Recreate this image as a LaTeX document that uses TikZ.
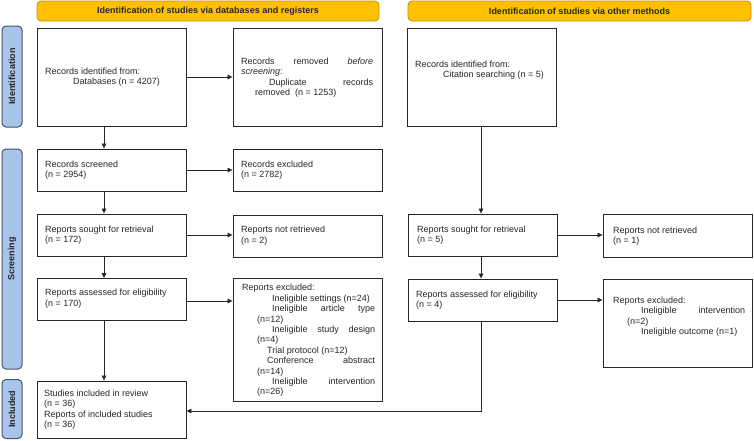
\documentclass[tikz,border=0pt]{standalone}
\usepackage{fontspec}
\setmainfont{Liberation Sans}
\usetikzlibrary{arrows.meta,calc}
\definecolor{hdrfill}{HTML}{FFC000}
\definecolor{hdrline}{HTML}{C59200}
\definecolor{sidefill}{HTML}{A9C4EB}
\definecolor{sideline}{HTML}{44546A}
\definecolor{ink}{HTML}{262626}
\begin{document}
\begin{tikzpicture}[x=1pt,y=-1pt,
  box/.style={draw=ink, line width=0.9pt, inner sep=0pt, minimum width=149pt},
  hdr/.style={draw=hdrline, fill=hdrfill, rounded corners=4pt, line width=0.8pt, inner sep=0pt, minimum height=20pt, font=\fontsize{9}{10}\selectfont\bfseries, text=ink},
  side/.style={draw=sideline, fill=sidefill, rounded corners=4pt, line width=1pt, inner sep=0pt, minimum height=20pt, font=\fontsize{9}{10}\selectfont\bfseries, text=ink},
  txt/.style={anchor=west, inner sep=0pt, align=left, font=\fontsize{9}{10.4}\selectfont, text=ink},
  arr/.style={draw=ink, line width=0.7pt, -{Triangle[length=5pt,width=4.5pt]}},
  ln/.style={draw=ink, line width=0.7pt}
]
\useasboundingbox (0,0) rectangle (754,440);

% headers
\node[hdr, minimum width=342pt] (h1) at (208,11) {Identification of studies via databases and registers};
\node[hdr, minimum width=343pt] (h2) at (579.5,11) {Identification of studies via other methods};

% side labels
\node[side, rotate=90, minimum width=101pt] (sId) at (12,76.5) {Identification};
\node[side, rotate=90, minimum width=220pt] (sSc) at (12,259) {Screening};
\node[side, rotate=90, minimum width=59pt] (sIn) at (12,409) {Included};

% boxes
\node[box, minimum height=98pt] (id1) at (111.5,77) {};
\node[box, minimum height=98pt] (rem) at (307.5,77) {};
\node[box, minimum height=98pt] (cit) at (481.5,77) {};
\node[box, minimum height=42pt] (scr) at (111.5,170) {};
\node[box, minimum height=42pt] (exc) at (307.5,170) {};
\node[box, minimum height=42pt] (sou) at (111.5,235) {};
\node[box, minimum height=42pt] (nret) at (307.5,236) {};
\node[box, minimum height=42pt] (ass) at (111.5,299.5) {};
\node[box, minimum height=123pt] (excl) at (307.5,339.5) {};
\node[box, minimum height=57pt] (inc) at (111.5,409.5) {};
\node[box, minimum height=42pt] (sou2) at (482.5,235) {};
\node[box, minimum height=43pt] (nret2) at (677.5,235.5) {};
\node[box, minimum height=42pt] (ass2) at (482.5,300) {};
\node[box, minimum height=88pt] (excl2) at (677.5,323) {};

% texts
\node[txt] (id1t) at (45,77) {Records identified from:\\\hspace*{28pt}Databases (n = 4207)};
\node[txt] (remt) at (241,77.5) {\makebox[132pt][s]{Records removed \textit{before}}\\\textit{screening}:\\\hspace*{28pt}\makebox[104pt][s]{Duplicate records}\\\hspace*{14pt}removed\ \ (n = 1253)};
\node[txt] (citt) at (415,70) {Records identified from:\\\hspace*{28pt}Citation searching (n = 5)};
\node[txt] (scrt) at (45,170) {Records screened\\(n = 2954)};
\node[txt] (exct) at (241,170) {Records excluded\\(n = 2782)};
\node[txt] (sout) at (45,235) {Reports sought for retrieval\\(n = 172)};
\node[txt] (nrett) at (241,235.5) {Reports not retrieved\\(n = 2)};
\node[txt] (asst) at (45,298.5) {Reports assessed for eligibility\\(n = 170)};
\node[txt] (exclt) at (242,340.5) {Reports excluded:\\
\hspace*{30pt}Ineligible settings (n=24)\\
\hspace*{30pt}\makebox[103pt][s]{Ineligible article type}\\
\hspace*{15pt}(n=12)\\
\hspace*{30pt}\makebox[103pt][s]{Ineligible study design}\\
\hspace*{15pt}(n=4)\\
\hspace*{25pt}Trial protocol (n=12)\\
\hspace*{25pt}\makebox[108pt][s]{Conference abstract}\\
\hspace*{15pt}(n=14)\\
\hspace*{30pt}\makebox[103pt][s]{Ineligible intervention}\\
\hspace*{15pt}(n=26)};
\node[txt] (inct) at (44,409.5) {Studies included in review\\(n = 36)\\Reports of included studies\\(n = 36)};
\node[txt] (sou2t) at (417,235) {Reports sought for retrieval\\(n = 5)};
\node[txt] (nret2t) at (613,236) {Reports not retrieved\\(n = 1)};
\node[txt] (ass2t) at (416,300) {Reports assessed for eligibility\\(n = 4)};
\node[txt] (excl2t) at (613,316.5) {Reports excluded:\\
\hspace*{28pt}\makebox[104pt][s]{Ineligible intervention}\\
\hspace*{14pt}(n=2)\\
\hspace*{28pt}Ineligible outcome (n=1)};

% connectors
\coordinate (cL) at (104,0);
\coordinate (cR) at (481,0);
\draw[arr] (id1.east) -- (id1.east -| rem.west);
\draw[arr] (id1.south -| cL) -- (scr.north -| cL);
\draw[arr] (scr.east) -- (scr.east -| exc.west);
\draw[arr] (scr.south -| cL) -- (sou.north -| cL);
\draw[arr] (sou.east) -- (sou.east -| nret.west);
\draw[arr] (sou.south -| cL) -- (ass.north -| cL);
\draw[arr] ([yshift=-1.5pt]ass.east) -- ([yshift=-1.5pt]ass.east -| excl.west);
\draw[arr] (ass.south -| cL) -- (inc.north -| cL);
\draw[arr] (cit.south -| cR) -- (sou2.north -| cR);
\draw[arr] (sou2.east) -- (sou2.east -| nret2.west);
\draw[arr] (sou2.south -| cR) -- (ass2.north -| cR);
\draw[arr] (ass2.east) -- (ass2.east -| excl2.west);
\draw[arr] (ass2.south -| cR) |- ([yshift=-1.5pt]inc.east);
\end{tikzpicture}
\end{document}
